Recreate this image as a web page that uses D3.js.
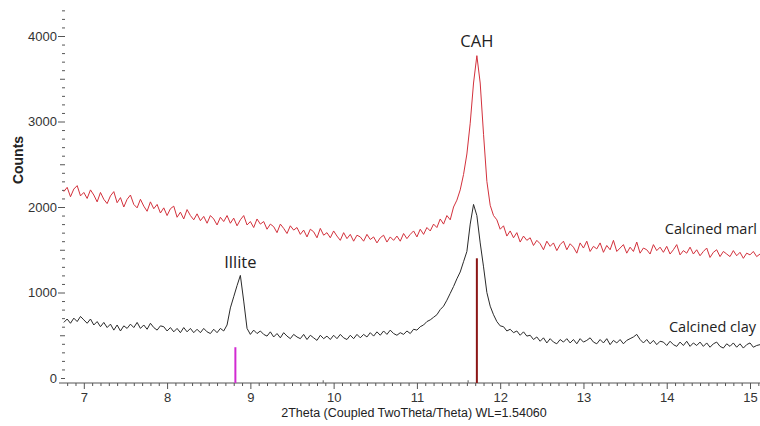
<!DOCTYPE html>
<html lang="en">
<head>
    <meta charset="UTF-8">
    <title>XRD Calcined marl / clay</title>
    <style>
        body { margin: 0; background: #fff; }
        .tick text { font-family: "Liberation Sans", Arial, sans-serif; font-size: 13px; fill: #333; }
        .tick line { stroke: #555; }
        .axis-title { font-family: "Liberation Sans", Arial, sans-serif; fill: #222; }
        .peak-label { font-family: "Open Sans", sans-serif; fill: #222; }
    </style>
</head>
<body>
    <svg width="760" height="426"></svg>

    <script src="https://d3js.org/d3.v7.min.js"></script>
    <script>

        // Measurement grid: 2Theta from 6.76 in steps of 0.04 deg
        const startAngle = 6.76;
        const stepAngle = 0.04;

        // Counts, one value per step
        const calcinedMarl = [
            2180, 2230, 2120, 2210, 2250, 2130, 2170, 2100, 2200, 2140,
            2060, 2170, 2090, 2040, 2130, 2180, 2050, 2110, 2000, 2090,
            2140, 2030, 1990, 2090, 2010, 1950, 2060, 1980, 2030, 1930,
            1990, 1900, 1980, 2010, 1880, 1940, 1860, 1970, 1900, 1850,
            1920, 1840, 1890, 1810, 1900, 1860, 1790, 1880, 1830, 1900,
            1810, 1870, 1780, 1850, 1900, 1790, 1830, 1760, 1860, 1800,
            1830, 1740, 1800, 1770, 1700, 1800, 1750, 1690, 1780, 1730,
            1760, 1680, 1730, 1650, 1740, 1710, 1640, 1750, 1670, 1700,
            1640, 1720, 1660, 1610, 1700, 1630, 1680, 1600, 1670, 1650,
            1600, 1680, 1620, 1650, 1580, 1640, 1670, 1590, 1650, 1610,
            1660, 1600, 1690, 1630, 1680, 1720, 1650, 1740, 1680, 1760,
            1720, 1800, 1760, 1860, 1800, 1900, 1850, 2000, 2080, 2200,
            2380, 2620, 2980, 3450, 3770, 3450, 2850, 2300, 2020, 1900,
            1850, 1740, 1780, 1660, 1720, 1640, 1700, 1590, 1660, 1610,
            1640, 1550, 1610, 1570, 1500, 1600, 1540, 1580, 1490, 1560,
            1600, 1500, 1570, 1530, 1460, 1580, 1520, 1600, 1480, 1540,
            1510, 1580, 1470, 1550, 1500, 1610, 1480, 1520, 1560, 1460,
            1530, 1480, 1590, 1460, 1520, 1500, 1450, 1560, 1490, 1530,
            1470, 1540, 1450, 1500, 1560, 1440, 1490, 1460, 1530, 1450,
            1500, 1430, 1480, 1520, 1410, 1470, 1500, 1420, 1480, 1450,
            1420, 1490, 1430, 1470, 1400, 1460, 1440, 1480, 1420, 1450
        ];

        const calcinedClay = [
            650, 690, 640, 700, 660, 720, 680, 640, 690, 620,
            660, 600, 650, 590, 630, 560, 620, 550, 610, 580,
            630, 590, 650, 580, 620, 570, 640, 590, 560, 610,
            600, 550, 590, 540, 580, 530, 590, 540, 580, 530,
            570, 530, 580, 540, 520, 570, 530, 580, 550, 620,
            820, 950, 1080, 1200, 900, 580, 510, 560, 520, 550,
            510, 490, 540, 480, 520, 470, 530, 490, 460, 510,
            480, 460, 510, 450, 500, 470, 440, 500, 460, 490,
            450, 500, 460, 510, 470, 450, 500, 460, 510, 470,
            510, 480, 530, 490, 540, 500, 550, 510, 560, 520,
            500, 530, 510, 550, 520, 570, 560, 600, 620, 660,
            680, 710, 740, 800, 840, 910, 990, 1070, 1160, 1240,
            1360, 1480, 1800, 2030, 1900, 1580, 1300, 1000, 840, 740,
            660, 610, 600, 550, 570, 530, 550, 500, 540, 490,
            500, 450, 480, 430, 470, 410, 460, 420, 400, 450,
            420, 460, 410, 450, 400, 460, 420, 440, 470, 420,
            400, 450, 410, 460, 390, 440, 410, 450, 400, 440,
            460, 480, 510, 450, 410, 450, 400, 440, 390, 430,
            420, 380, 430, 390, 370, 420, 380, 430, 370, 410,
            380, 420, 370, 410, 360, 400, 420, 370, 350, 400,
            370, 410, 360, 400, 350, 390, 410, 360, 380, 390
        ];

        // Reference sticks (phase database lines)
        const stickAngles = [8.82, 9.875, 11.615, 11.72];
        const stickCounts = [360, -25, -25, 1400];
        const stickColors = ['#d22ad2', '#777', '#777', '#8b1515'];

        const majorX = [7, 8, 9, 10, 11, 12, 13, 14, 15];
        const majorY = [0, 1000, 2000, 3000, 4000];

        const seriesNames = ['Calcined marl', 'Calcined clay'];
        const peakNames = ['Illite', 'CAH'];

        const svg = d3.select('svg');

        const x = d3.scaleLinear().domain([6.75, 15.12]).range([63, 760]);
        const y = d3.scaleLinear().domain([0, 4000]).range([378, 36]);
        const yBottom = y.invert(383);

        const angles = calcinedMarl.map(function (d, i) {
            return startAngle + stepAngle * i;
        });

        // x axis: solid line, minor ticks every 0.1
        const minorX = d3.range(68, 152).map(function (d) { return d / 10; })
            .filter(function (d) { return Math.abs(d - Math.round(d)) > 1e-6; });

        svg.append('line')
            .attr('x1', 59).attr('x2', 760)
            .attr('y1', y(yBottom)).attr('y2', y(yBottom))
            .attr('stroke', '#555');

        svg.append('g')
            .attr('transform', 'translate(0 ' + y(yBottom) + ')')
            .call(d3.axisBottom(x).tickValues(minorX).tickSize(3).tickFormat(''))
            .call(function (g) { g.select('.domain').remove(); });

        svg.append('g')
            .attr('transform', 'translate(0 ' + y(yBottom) + ')')
            .call(d3.axisBottom(x).tickValues(majorX).tickSize(6).tickPadding(4).tickFormat(d3.format('d')))
            .call(function (g) { g.select('.domain').remove(); });

        // y axis: ticks only
        const minorY = d3.range(100, 4400, 100).filter(function (d) { return d % 1000 !== 0; });

        svg.append('g')
            .attr('transform', 'translate(65 0)')
            .call(d3.axisLeft(y).tickValues(minorY).tickSize(3).tickFormat(''))
            .call(function (g) {
                g.select('.domain').remove();
                g.selectAll('.tick line').attr('x2', function (d) { return d % 500 === 0 ? -5 : -3; });
            });

        svg.append('g')
            .attr('transform', 'translate(65 0)')
            .call(d3.axisLeft(y).tickValues(majorY).tickSize(7).tickPadding(1).tickFormat(d3.format('d')))
            .call(function (g) {
                g.select('.domain').remove();
                g.selectAll('.tick line').attr('x2', function (d) { return d === 0 ? -4 : -7; });
            });

        // axis titles
        svg.append('text')
            .attr('class', 'axis-title')
            .attr('x', 414).attr('y', 417)
            .attr('text-anchor', 'middle')
            .attr('font-size', '12.5px')
            .text('2Theta (Coupled TwoTheta/Theta) WL=1.54060');

        svg.append('text')
            .attr('class', 'axis-title')
            .attr('transform', 'translate(23 160) rotate(-90)')
            .attr('text-anchor', 'middle')
            .attr('font-size', '14px')
            .attr('font-weight', 'bold')
            .text('Counts');

        // sticks
        svg.selectAll('line.stick')
            .data(stickAngles)
            .enter()
            .append('line')
            .attr('class', 'stick')
            .attr('x1', function (d) { return x(d); })
            .attr('x2', function (d) { return x(d); })
            .attr('y1', y(yBottom))
            .attr('y2', function (d, i) { return y(stickCounts[i]); })
            .attr('stroke', function (d, i) { return stickColors[i]; })
            .attr('stroke-width', function (d, i) { return stickCounts[i] > 0 ? 2 : 1.2; });

        // patterns
        const line = d3.line()
            .x(function (d, i) { return x(angles[i]); })
            .y(function (d) { return y(d); });

        svg.append('path')
            .datum(calcinedMarl)
            .attr('d', line)
            .attr('fill', 'none')
            .attr('stroke', '#d3313c')
            .attr('stroke-width', 1);

        svg.append('path')
            .datum(calcinedClay)
            .attr('d', line)
            .attr('fill', 'none')
            .attr('stroke', '#2a2a2a')
            .attr('stroke-width', 1);

        // labels
        svg.append('text')
            .attr('class', 'peak-label')
            .attr('x', 757).attr('y', 234)
            .attr('text-anchor', 'end')
            .attr('font-size', '14.5px')
            .text(seriesNames[0]);

        svg.append('text')
            .attr('class', 'peak-label')
            .attr('x', 756).attr('y', 332)
            .attr('text-anchor', 'end')
            .attr('font-size', '14.5px')
            .text(seriesNames[1]);

        svg.append('text')
            .attr('class', 'peak-label')
            .attr('x', x(8.88)).attr('y', 268)
            .attr('text-anchor', 'middle')
            .attr('font-size', '16.5px')
            .text(peakNames[0]);

        svg.append('text')
            .attr('class', 'peak-label')
            .attr('x', x(11.72)).attr('y', 47)
            .attr('text-anchor', 'middle')
            .attr('font-size', '16.5px')
            .text(peakNames[1]);

    </script>
</body>
</html>
